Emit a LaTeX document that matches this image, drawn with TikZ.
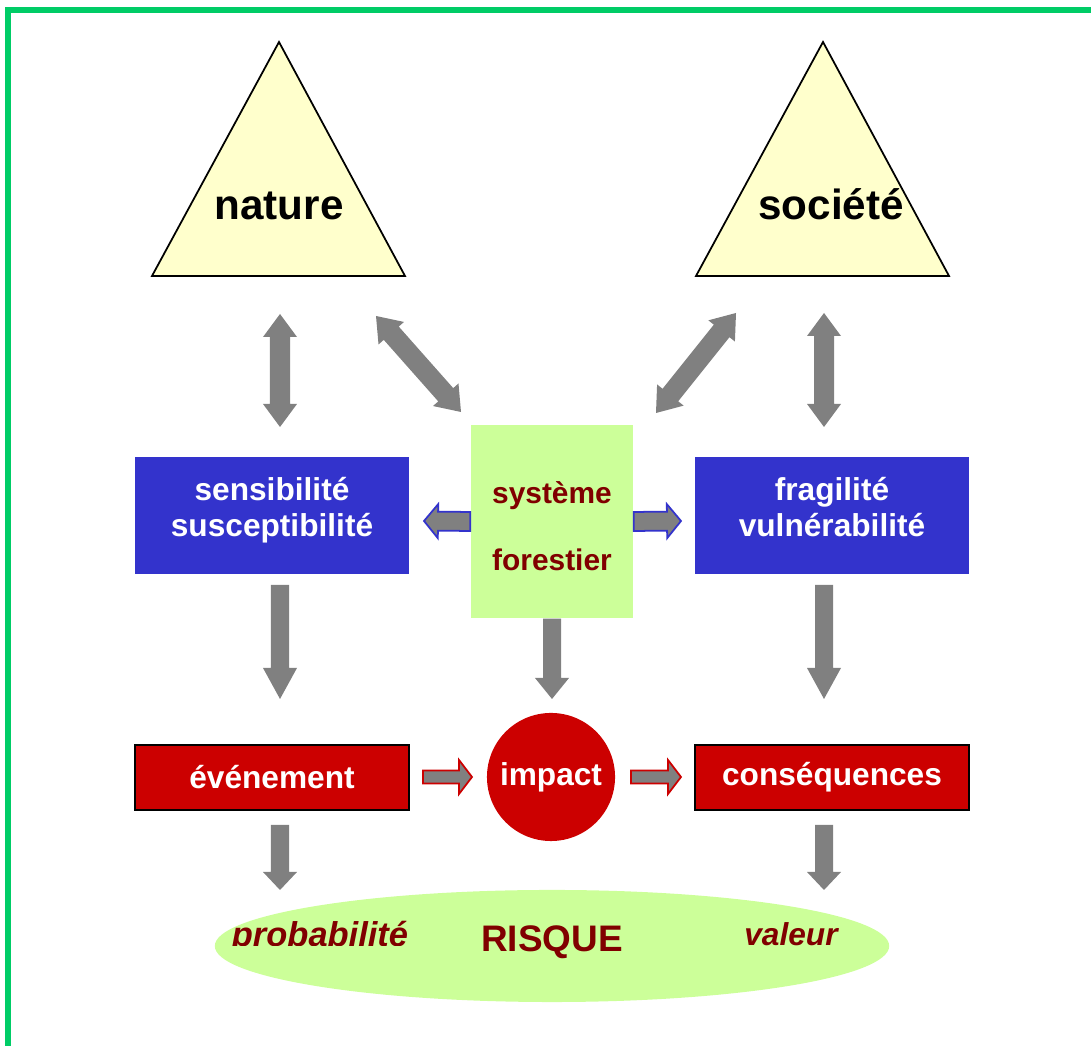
\documentclass[tikz,border=0pt]{standalone}
\usepackage{fontspec}
\setmainfont{Liberation Sans}
\usepackage{xcolor}
\usetikzlibrary{calc, shapes.geometric}

\definecolor{boxblue}{HTML}{3333CC}
\definecolor{boxred}{HTML}{CC0000}
\definecolor{paleyellow}{HTML}{FFFFCC}
\definecolor{palegreen}{HTML}{CCFF99}
\definecolor{darkred}{HTML}{800000}
\definecolor{framegreen}{HTML}{00CC66}
\definecolor{arrowgray}{HTML}{808080}

% block arrow: [style]{from}{to}{head length}{half shaft}
\newcommand{\sarrow}[5][]{%
  \filldraw[#1] ($(#2)!#5!90:(#3)$) -- ($(#3)!#4!(#2)!#5!-90:(#2)$)
    -- ($(#3)!#4!(#2)!0.17cm!-90:(#2)$) -- (#3)
    -- ($(#3)!#4!(#2)!0.17cm!90:(#2)$) -- ($(#3)!#4!(#2)!#5!90:(#2)$)
    -- ($(#2)!#5!-90:(#3)$) -- cycle;}
% double block arrow: [style]{end}{end}
\newcommand{\darrow}[3][]{%
  \fill[#1] (#2) -- ($(#2)!0.23cm!(#3)!0.17cm!90:(#3)$) -- ($(#2)!0.23cm!(#3)!0.1cm!90:(#3)$)
    -- ($(#3)!0.23cm!(#2)!0.1cm!-90:(#2)$) -- ($(#3)!0.23cm!(#2)!0.17cm!-90:(#2)$) -- (#3)
    -- ($(#3)!0.23cm!(#2)!0.17cm!90:(#2)$) -- ($(#3)!0.23cm!(#2)!0.1cm!90:(#2)$)
    -- ($(#2)!0.23cm!(#3)!0.1cm!-90:(#3)$) -- ($(#2)!0.23cm!(#3)!0.17cm!-90:(#3)$) -- cycle;}

\begin{document}
\begin{tikzpicture}[x = 0.01cm, y = 0.01cm,
    tri/.style = {fill=paleyellow, draw=black, line width=0.5pt},
    bigword/.style = {anchor=base, font=\fontsize{12}{14}\selectfont\bfseries},
    bluebox/.style = {fill=boxblue, text=white, minimum width=2.74cm, minimum height=1.17cm,
        inner sep=0pt, align=center, font=\fontsize{9}{10.2}\selectfont\bfseries},
    greenbox/.style = {fill=palegreen, text=darkred, minimum width=1.62cm, minimum height=1.93cm,
        inner sep=0pt, align=center, font=\fontsize{8.5}{10}\selectfont\bfseries},
    redbox/.style = {fill=boxred, draw=black, line width=0.5pt, text=white, minimum width=2.74cm,
        minimum height=0.65cm, inner sep=0pt, font=\fontsize{9}{10.2}\selectfont\bfseries},
    greybar/.style = {fill=arrowgray, draw=none},
    bluetip/.style = {fill=arrowgray, draw=boxblue, line width=0.5pt},
    redtip/.style = {fill=arrowgray, draw=boxred, line width=0.5pt},
    riskword/.style = {anchor=base, text=darkred, font=\fontsize{9}{11}\selectfont\bfseries\itshape}]
  \useasboundingbox (0,0) rectangle (1091,1046);
  \draw[framegreen, line width=0.06cm] (8,0) -- (8,1036) -- (1091,1036);

  \coordinate (natL) at (152,770); \coordinate (natT) at (279,1004); \coordinate (natR) at (405,770);
  \coordinate (socL) at (696,770); \coordinate (socT) at (823,1004); \coordinate (socR) at (949,770);
  \filldraw[tri] (natL) -- (natT) -- (natR) -- cycle;
  \filldraw[tri] (socL) -- (socT) -- (socR) -- cycle;
  \node[bigword] (nat) at (279,826) {nature};
  \node[bigword] (soc) at (831,826) {société};

  \node[bluebox] (sens) at (272,530.5) {sensibilité\\susceptibilité\rule[-4.8pt]{0pt}{0pt}};
  \node[greenbox] (forest) at (552,524.5) {\rule{0pt}{8.9pt}système\\[9.3pt]forestier};
  \node[bluebox] (frag) at (832,530.5) {fragilité\\vulnérabilité\rule[-4.8pt]{0pt}{0pt}};

  \node[redbox] (even) at (272,268.5) {événement};
  \node[circle, fill=boxred, minimum size=1.28cm, inner sep=0pt, text=white,
        font=\fontsize{9}{10.2}\selectfont\bfseries] (imp) at (551,269) {impact};
  \node[redbox] (cons) at (832,268.5) {conséquences};

  \node[ellipse, fill=palegreen, minimum width=6.74cm, minimum height=1.12cm] (risk) at (552,100) {};
  \begin{scope}
    \clip (200,100) rectangle (430,140);
    \node[riskword, font=\fontsize{9.8}{11}\selectfont\bfseries\itshape] (prob) at (320,99) {probabilité};
  \end{scope}
  \node[anchor=base, text=darkred, font=\fontsize{10.5}{12}\selectfont\bfseries] (risque) at (552,94) {RISQUE};
  \node[riskword] (val) at (791,100) {valeur};

  \coordinate (n1) at (280,732); \coordinate (n2) at (280,619);
  \coordinate (n3) at (376,730); \coordinate (n4) at (461,634);
  \coordinate (s1) at (824,733); \coordinate (s2) at (824,619);
  \coordinate (s3) at (736,733); \coordinate (s4) at (656,633);
  \darrow[greybar]{n1}{n2}
  \darrow[greybar]{n3}{n4}
  \darrow[greybar]{s3}{s4}
  \darrow[greybar]{s1}{s2}

  \coordinate (b2) at (424,525); \coordinate (b4) at (681,525);
  \sarrow[bluetip]{forest.west}{b2}{0.14cm}{0.095cm}
  \sarrow[bluetip]{forest.east}{b4}{0.14cm}{0.095cm}

  \coordinate (d1) at (280,461); \coordinate (d2) at (280,347);
  \coordinate (d4) at (552,347);
  \coordinate (d5) at (824,461); \coordinate (d6) at (824,347);
  \sarrow[greybar]{d1}{d2}{0.31cm}{0.09cm}
  \sarrow[greybar]{forest.south}{d4}{0.21cm}{0.09cm}
  \sarrow[greybar]{d5}{d6}{0.31cm}{0.09cm}

  \coordinate (r1) at (423,269); \coordinate (r2) at (472,269);
  \coordinate (r3) at (631,269); \coordinate (r4) at (681,269);
  \sarrow[redtip]{r1}{r2}{0.13cm}{0.065cm}
  \sarrow[redtip]{r3}{r4}{0.13cm}{0.065cm}

  \coordinate (d7) at (280,221); \coordinate (d8) at (280,156);
  \coordinate (d9) at (824,221); \coordinate (d10) at (824,156);
  \sarrow[greybar]{d7}{d8}{0.18cm}{0.09cm}
  \sarrow[greybar]{d9}{d10}{0.18cm}{0.09cm}
\end{tikzpicture}
\end{document}
